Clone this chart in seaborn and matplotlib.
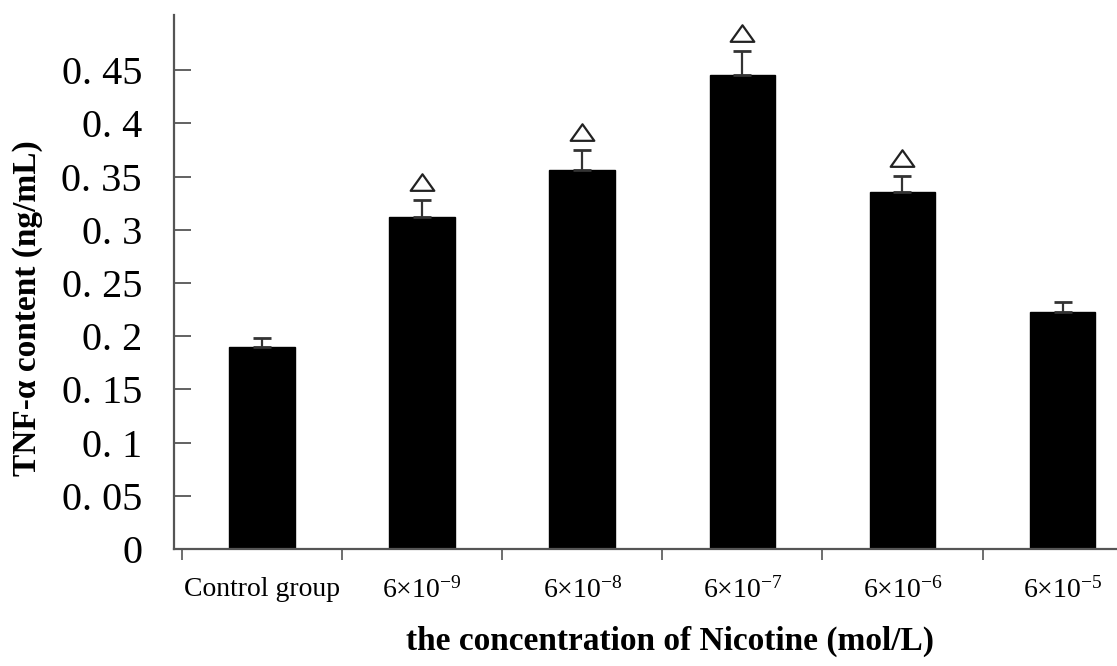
import matplotlib
matplotlib.use("Agg")
import matplotlib.pyplot as plt
from matplotlib.path import Path
import seaborn as sns
import pandas as pd
import numpy as np

categories = ["Control group", "6×10$^{-9}$", "6×10$^{-8}$", "6×10$^{-7}$", "6×10$^{-6}$", "6×10$^{-5}$"]
means = [0.190, 0.312, 0.356, 0.446, 0.336, 0.223]
errors = [0.008, 0.016, 0.019, 0.022, 0.015, 0.009]
significant = [False, True, True, True, True, False]
ytick_values = [0, 0.05, 0.1, 0.15, 0.2, 0.25, 0.3, 0.35, 0.4, 0.45]
ytick_labels = ["0", "0. 05", "0. 1", "0. 15", "0. 2", "0. 25", "0. 3", "0. 35", "0. 4", "0. 45"]

sns.set_theme(style="white")
plt.rcParams['font.family'] = ['Liberation Serif', 'DejaVu Serif']
plt.rcParams['mathtext.fontset'] = 'custom'
plt.rcParams['mathtext.rm'] = 'Liberation Serif'
plt.rcParams['mathtext.default'] = 'regular'
plt.rcParams['text.color'] = 'black'
plt.rcParams['xtick.color'] = '#555555'
plt.rcParams['ytick.color'] = '#555555'
plt.rcParams['xtick.labelcolor'] = 'black'
plt.rcParams['ytick.labelcolor'] = 'black'

df = pd.DataFrame({"group": categories, "value": means})

fig = plt.figure(figsize=(11.17, 6.66), dpi=100)
ax = fig.add_axes([0.1558, 0.1757, 0.8442, 0.8018])

sns.barplot(data=df, x="group", y="value", color="black", width=0.41,
            errorbar=None, ax=ax, saturation=1, edgecolor="black")

x = np.arange(len(categories))
ax.errorbar(x, means, yerr=[np.zeros(len(means)), errors], fmt="none",
            ecolor="#333333", elinewidth=1.6, capsize=6.5, capthick=2)

tri = Path([(-1.0, -0.62), (1.0, -0.62), (0.0, 0.78), (-1.0, -0.62)],
           [Path.MOVETO, Path.LINETO, Path.LINETO, Path.CLOSEPOLY])
sx = [xi for xi, s in zip(x, significant) if s]
sy = [m + e + 0.016 for m, e, s in zip(means, errors, significant) if s]
ax.plot(sx, sy, linestyle="none", marker=tri, markersize=17,
        markerfacecolor="white", markeredgecolor="#222222", markeredgewidth=1.6)

for side in ["top", "right"]:
    ax.spines[side].set_visible(False)
for side in ["left", "bottom"]:
    ax.spines[side].set_color("#555555")
    ax.spines[side].set_linewidth(1.6)

ax.set_yticks(ytick_values)
ax.set_yticklabels(ytick_labels, fontsize=29)
ax.tick_params(axis="y", left=True, direction="in", length=12, width=1.3, pad=23)

ax.set_xticks(x)
ax.set_xticklabels(categories, fontsize=20)
ax.tick_params(axis="x", which="major", bottom=True, length=0, pad=20)
ax.set_xticks(np.arange(-0.5, 6.0, 1.0), minor=True)
ax.tick_params(axis="x", which="minor", bottom=True, direction="out", length=8, width=1.2)

ax.set_xlim(-0.55, 5.34)
ax.set_ylim(0, 0.502)

ax.set_xlabel("")
ax.set_ylabel("")
fig.text(670/1117, 1 - 641/666, "the concentration of Nicotine (mol/L)",
         fontsize=24, fontweight="bold", ha="center", va="center")
fig.text(28/1117, 1 - 308/666, "TNF-α content (ng/mL)",
         fontsize=24, fontweight="bold", ha="center", va="center", rotation=90)

fig.savefig("out.png", dpi=100)
